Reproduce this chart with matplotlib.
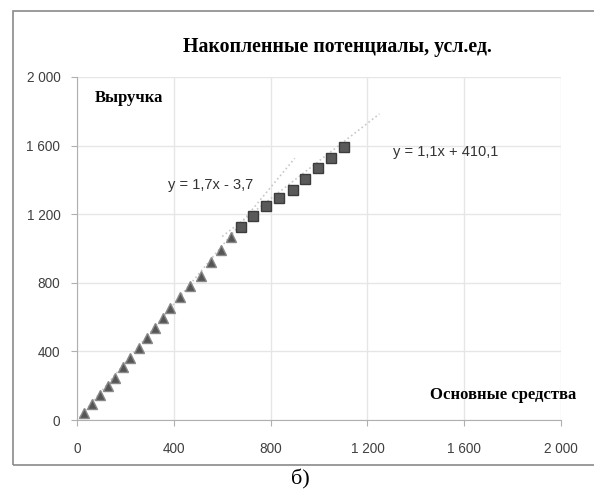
import matplotlib.pyplot as plt
from matplotlib.patches import Rectangle
from matplotlib.ticker import FuncFormatter

# series
tri_x = [30, 61, 93, 127, 157, 189, 218, 255, 289, 321, 355, 386, 426, 468, 512, 553, 594, 635]
tri_y = [39, 93, 146, 198, 247, 311, 360, 418, 476, 538, 597, 655, 715, 781, 842, 920, 991, 1065]
sq_x = [676, 727, 779, 834, 892, 943, 997, 1048, 1102]
sq_y = [1127, 1191, 1248, 1296, 1341, 1405, 1468, 1526, 1594]

# trend lines (slope, intercept, x range)
trend1 = (1.7, -3.7, (0, 900))
trend2 = (1.1, 410.1, (600, 1250))
ticks = [0, 400, 800, 1200, 1600, 2000]


def fmt(v, pos):
    return f"{int(v):,}".replace(",", " ")


W, H = 594, 496
fig = plt.figure(figsize=(W / 100, H / 100), dpi=100)
# outer chart frame, cut off at the right edge
fig.patches.append(Rectangle((13 / W, 1 - 465 / H), 1.0, (465 - 11) / H,
                             transform=fig.transFigure, fill=False,
                             edgecolor="#8a8a8a", linewidth=1.2))

ax = fig.add_axes([77 / W, 1 - 420 / H, 484 / W, 343 / H])

for k, b, (x0, x1) in (trend1, trend2):
    ax.plot([x0, x1], [k * x0 + b, k * x1 + b], linestyle=":", color="#c8c8c8", linewidth=1.2, zorder=2)

ax.plot(tri_x, tri_y, linestyle="none", marker="^", markersize=7.5,
        markerfacecolor="#555555", markeredgecolor="#888888", zorder=3)
ax.plot(sq_x, sq_y, linestyle="none", marker="s", markersize=7.5,
        markerfacecolor="#5a5a5a", markeredgecolor="#3c3c3c", zorder=3)

ax.set_xlim(0, 2000)
ax.set_ylim(0, 2000)
ax.set_xticks(ticks)
ax.set_yticks(ticks)
ax.xaxis.set_major_formatter(FuncFormatter(fmt))
ax.yaxis.set_major_formatter(FuncFormatter(fmt))
ax.grid(True, color="#e6e6e6", linewidth=1)
ax.set_axisbelow(True)
for side in ("top", "right"):
    ax.spines[side].set_visible(False)
for side in ("left", "bottom"):
    ax.spines[side].set_color("#b0b0b0")
ax.tick_params(colors="#b0b0b0", labelcolor="#404040", labelsize=9.8, length=4)
ax.tick_params(axis="x", pad=12)
ax.tick_params(axis="y", pad=8)
for lbl in ax.get_xticklabels() + ax.get_yticklabels():
    lbl.set_family("Liberation Sans")

serif = "Liberation Serif"
fig.text(337 / W, 1 - 47 / H, "Накопленные потенциалы, усл.ед.", family=serif,
         fontweight="bold", fontsize=14.3, ha="center", va="center")
fig.text(95 / W, 1 - 98 / H, "Выручка", family=serif,
         fontweight="bold", fontsize=12, ha="left", va="center")
fig.text(576 / W, 1 - 395 / H, "Основные средства", family=serif,
         fontweight="bold", fontsize=12, ha="right", va="center")
fig.text(168 / W, 1 - 185 / H, "y = 1,7x - 3,7", family="Liberation Sans",
         fontsize=10.5, color="#333333", ha="left", va="center")
fig.text(393 / W, 1 - 152 / H, "y = 1,1x + 410,1", family="Liberation Sans",
         fontsize=10.5, color="#333333", ha="left", va="center")
fig.text(300 / W, 1 - 479 / H, "б)", family=serif, fontsize=16, ha="center", va="center")

fig.savefig("out.png", dpi=100)
